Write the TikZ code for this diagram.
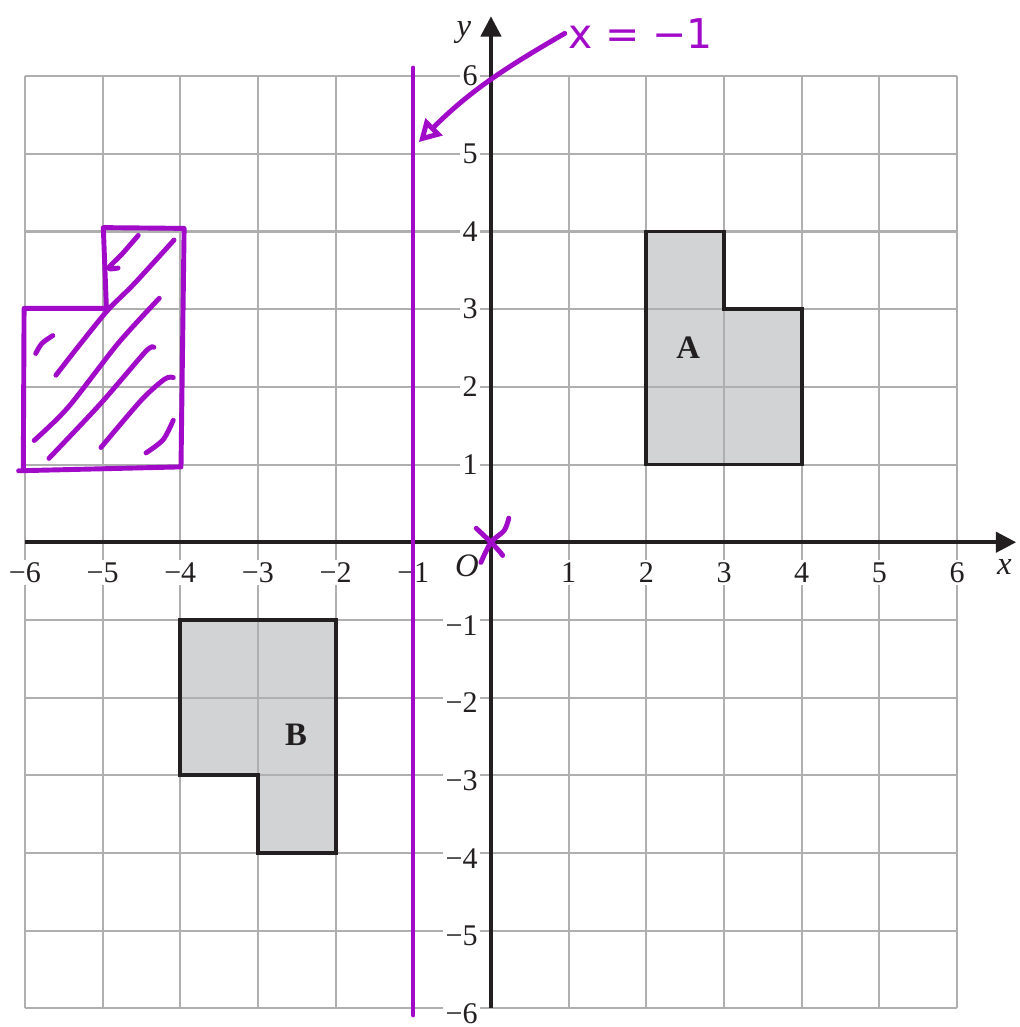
\documentclass[tikz,border=0pt]{standalone}
\usepackage{fontspec}
\setmainfont{Liberation Serif}
\newfontfamily\handfont{DejaVu Sans}
\usetikzlibrary{arrows.meta}
\definecolor{penpurple}{RGB}{160,10,200}
\definecolor{shapegray}{RGB}{209,211,212}
\definecolor{gridgray}{RGB}{175,175,175}
\definecolor{axisblack}{RGB}{35,31,32}

\begin{document}
\begin{tikzpicture}[
  gridline/.style={gridgray, line width=0.75pt},
  axisline/.style={axisblack, line width=1.3pt, -{Triangle[length=2.6mm, width=2.6mm]}},
  shapeline/.style={axisblack, line width=1.4pt, line join=miter},
  ticklabel/.style={fill=white, inner sep=1pt, font=\fontsize{11}{12}\selectfont, text=axisblack},
  shapelabel/.style={font=\fontsize{12}{14}\selectfont\bfseries, text=axisblack},
  pen/.style={penpurple, line width=1.8pt, line cap=round, line join=round},
]
  \useasboundingbox (-6.32,-6.24) rectangle (6.80,6.98);
  % Shapes A and B (fill first, grid goes on top)
  \fill[shapegray] (2,1) -- (4,1) -- (4,3) -- (3,3) -- (3,4) -- (2,4) -- cycle;
  \fill[shapegray] (-4,-1) -- (-2,-1) -- (-2,-4) -- (-3,-4) -- (-3,-3) -- (-4,-3) -- cycle;
  % Grid
  \draw[gridline] (-6,-6) grid (6,6);
  % Outlines
  \draw[shapeline] (2,1) -- (4,1) -- (4,3) -- (3,3) -- (3,4) -- (2,4) -- cycle;
  \draw[shapeline] (-4,-1) -- (-2,-1) -- (-2,-4) -- (-3,-4) -- (-3,-3) -- (-4,-3) -- cycle;
  \node[shapelabel] (labA) at (2.54,2.5) {A};
  \node[shapelabel] (labB) at (-2.51,-2.48) {B};
  % Axes
  \draw[axisline] (-6,0) -- (6.76,0);
  \draw[axisline] (0,-6) -- (0,6.77);
  \node[font=\fontsize{12}{14}\selectfont\itshape, text=axisblack] (xlab) at (6.61,-0.32) {x};
  \node[font=\fontsize{12}{14}\selectfont\itshape, text=axisblack] (ylab) at (-0.35,6.56) {y};
  \node[font=\fontsize{12}{14}\selectfont\itshape, text=axisblack] (orig) at (-0.31,-0.30) {O};
  % Tick labels
  \foreach \x in {1,...,6} \node[ticklabel] (xp\x) at (\x,-0.39) {\x};
  \foreach \x in {1,...,6} \node[ticklabel] (xn\x) at (-\x,-0.39) {−\x};
  \foreach \y in {1,...,6} \node[ticklabel, anchor=east] (yp\y) at (-0.13,\y) {\y};
  \foreach \y in {1,...,6} \node[ticklabel, anchor=east] (yn\y) at (-0.13,-\y-0.07) {−\y};
  % Mirror line x = -1
  \draw[pen, line width=1.5pt] (-1,-6.09) -- (-1,6.11);
  \node[font=\handfont\fontsize{15}{18}\selectfont, text=penpurple, anchor=west, inner sep=1pt] (mirror) at (0.95,6.55) {x = −1};
  \coordinate (tip) at (-0.93,5.15);
  \draw[pen, -{Triangle[open, length=2.8mm, width=3mm]}] (mirror.west) to[out=210, in=45] (tip);
  % Reflected shape, hatched by hand
  \draw[pen] (-6.08,0.92) -- (-3.99,0.97) -- (-3.95,4.04) -- (-4.99,4.05) -- (-4.95,3.01) -- (-6.01,3.01) -- (-6.02,0.95);
  \draw[pen] plot[smooth] coordinates {(-4.54,3.95) (-4.74,3.72) (-4.92,3.53) (-4.80,3.53)};
  \draw[pen] plot[smooth] coordinates {(-4.08,3.89) (-4.59,3.33) (-4.93,2.99) (-5.28,2.56) (-5.60,2.15)};
  \draw[pen] plot[smooth] coordinates {(-4.27,3.14) (-4.80,2.56) (-5.44,1.74) (-5.88,1.31)};
  \draw[pen] plot[smooth] coordinates {(-5.64,2.66) (-5.78,2.56) (-5.86,2.43)};
  \draw[pen] plot[smooth] coordinates {(-4.34,2.51) (-4.45,2.45) (-5.02,1.79) (-5.69,1.08)};
  \draw[pen] plot[smooth] coordinates {(-4.09,2.12) (-4.20,2.10) (-4.50,1.83) (-5.02,1.22)};
  \draw[pen] plot[smooth] coordinates {(-4.09,1.57) (-4.22,1.32) (-4.44,1.15)};
  % Cross at the origin
  \draw[pen] plot[smooth] coordinates {(-0.19,0.18) (0,0) (0.12,-0.13) (0.15,-0.17)};
  \draw[pen] plot[smooth] coordinates {(0.23,0.31) (0.17,0.15) (0,0) (-0.13,-0.26)};
\end{tikzpicture}
\end{document}
